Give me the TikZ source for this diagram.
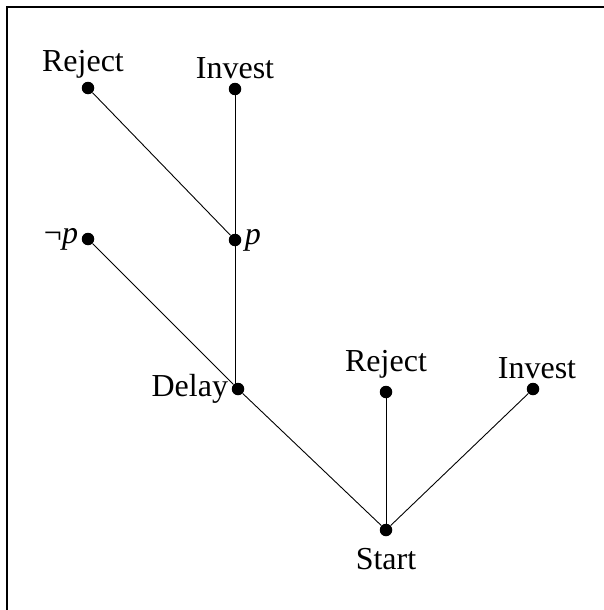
\documentclass[tikz,border=0pt]{standalone}
\usepackage{fontspec}
\setmainfont{Liberation Serif}
\usepackage{amsmath}

\begin{document}
\begin{tikzpicture}[
    x=1pt, y=-1pt,
    dot/.style={circle, fill=black, inner sep=0pt, minimum size=12.5pt},
    every label/.style={font=\fontsize{32}{38}\selectfont},
    edge/.style={draw, line width=0.9pt},
]
\useasboundingbox (0,0) rectangle (604,610);
\clip (0,0) rectangle (604,610);
\draw[line width=2.5pt] (7,7) rectangle (620,630);

\node[dot, label={[xshift=-5pt]above:Reject}] (rejA) at (88,88) {};
\node[dot, label=above:Invest] (invA) at (235,89) {};
\node[dot, label=left:¬\textit{p}] (notp) at (88,239) {};
\node[dot, label=right:\textit{p}] (pp) at (235,240) {};
\node[dot, label=left:Delay] (delay) at (238,389) {};
\node[dot, label={[yshift=4pt]above:Reject}] (rejB) at (386,392) {};
\node[dot, label={[xshift=4pt]above:Invest}] (invB) at (533,389) {};
\node[dot, label={[yshift=-8pt]below:Start}] (start) at (386,530) {};

\draw[edge] (start) -- (delay) -- (notp);
\draw[edge] (start) -- (rejB);
\draw[edge] (start) -- (invB);
\draw[edge] (pp) -- (pp |- delay.center);
\draw[edge] (pp) -- (rejA);
\draw[edge] (pp) -- (invA);
\end{tikzpicture}
\end{document}
